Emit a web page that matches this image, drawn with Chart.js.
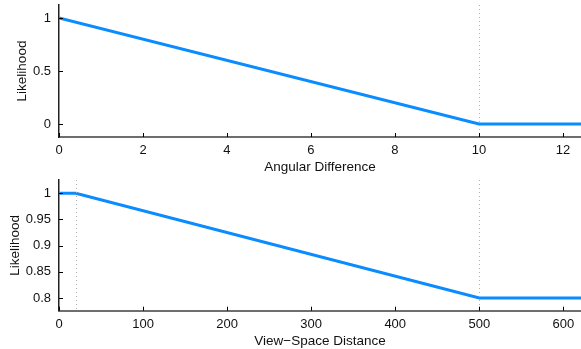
<!DOCTYPE html>
<html>
<head>
<meta charset="utf-8">
<script src="https://cdn.jsdelivr.net/npm/chart.js@4.4.1/dist/chart.umd.min.js"></script>
<style>
  html, body { margin: 0; padding: 0; background: #fff; }
  .box { position: absolute; left: 0; width: 581px; }
  #top { top: 0; height: 175px; }
  #bot { top: 175px; height: 174px; }
</style>
</head>
<body>
<div class="box" id="top"><canvas id="angChart"></canvas></div>
<div class="box" id="bot"><canvas id="distChart"></canvas></div>
<script>
// top panel: likelihood vs angular difference
const angX = [0, 10, 12.43];
const angY = [1, 0, 0];
const angXTicks = [0, 2, 4, 6, 8, 10, 12];
const angYTicks = [0, 0.5, 1];
const angGuides = [10];

// bottom panel: likelihood vs view-space distance
const distX = [0, 20, 500, 621];
const distY = [1, 1, 0.8, 0.8];
const distXTicks = [0, 100, 200, 300, 400, 500, 600];
const distYTicks = [0.8, 0.85, 0.9, 0.95, 1];
const distGuides = [20, 500];

const lineColor = '#0a8cff';
const font = "'Liberation Sans', Arial, sans-serif";

// dotted guides + inward tick marks
const decorPlugin = {
  id: 'decor',
  afterDraw(chart, args, opts) {
    const { ctx, chartArea: a, scales: { x, y } } = chart;
    ctx.save();
    ctx.strokeStyle = '#b0b0b0';
    ctx.lineWidth = 1;
    ctx.setLineDash([1, 3]);
    opts.guides.forEach(v => {
      const px = Math.round(x.getPixelForValue(v)) + 0.5;
      ctx.beginPath();
      ctx.moveTo(px, a.top);
      ctx.lineTo(px, a.bottom);
      ctx.stroke();
    });
    ctx.setLineDash([]);
    ctx.strokeStyle = '#000';
    x.ticks.forEach(t => {
      const px = Math.round(x.getPixelForValue(t.value)) + 0.5;
      ctx.beginPath();
      ctx.moveTo(px, a.bottom);
      ctx.lineTo(px, a.bottom - 4);
      ctx.stroke();
    });
    y.ticks.forEach(t => {
      const py = Math.round(y.getPixelForValue(t.value)) + 0.5;
      ctx.beginPath();
      ctx.moveTo(a.left, py);
      ctx.lineTo(a.left + 4, py);
      ctx.stroke();
    });
    ctx.restore();
  }
};

const fmt = v => String(Number(v.toFixed(3)));

function makeChart(id, xs, ys, xTicks, yTicks, guides, xMin, xMax, yMin, yMax, xTitle, xAxisH, yTitlePad) {
  const pts = xs.map((v, i) => ({ x: v, y: ys[i] }));
  return new Chart(document.getElementById(id), {
    type: 'line',
    data: {
      datasets: [{
        data: pts,
        borderColor: lineColor,
        borderWidth: 3,
        pointRadius: 0,
        tension: 0,
        fill: false
      }]
    },
    options: {
      responsive: true,
      maintainAspectRatio: false,
      animation: false,
      layout: { padding: { top: 5, right: 0, left: 0, bottom: 0 } },
      plugins: { legend: { display: false }, tooltip: { enabled: false }, decor: { guides: guides } },
      scales: {
        x: {
          type: 'linear',
          min: xMin, max: xMax,
          afterBuildTicks: s => { s.ticks = xTicks.map(v => ({ value: v })); },
          afterFit: s => { s.height = xAxisH; s.paddingLeft = 0; s.paddingRight = 0; },
          grid: { drawOnChartArea: false, drawTicks: false },
          border: { color: '#6e6e6e', width: 2 },
          ticks: { color: '#111', font: { family: font, size: 13 }, padding: 6, maxRotation: 0, callback: fmt },
          title: { display: true, text: xTitle, color: '#111', font: { family: font, size: 13.5 }, padding: { top: 0, bottom: 0 } }
        },
        y: {
          min: yMin, max: yMax,
          afterBuildTicks: s => { s.ticks = yTicks.map(v => ({ value: v })); },
          afterFit: s => { s.width = 59; s.paddingTop = 0; s.paddingBottom = 0; },
          grid: { drawOnChartArea: false, drawTicks: false },
          border: { color: '#222', width: 1.5 },
          ticks: { color: '#111', font: { family: font, size: 13 }, padding: 8, callback: fmt },
          title: { display: true, text: 'Likelihood', color: '#111', font: { family: font, size: 13.5 }, padding: { top: yTitlePad, bottom: 0 } }
        }
      }
    },
    plugins: [decorPlugin]
  });
}

makeChart('angChart', angX, angY, angXTicks, angYTicks, angGuides, 0, 12.43, -0.123, 1.123, 'Angular Difference', 38, 14);
makeChart('distChart', distX, distY, distXTicks, distYTicks, distGuides, 0, 621, 0.7758, 1.0254, 'View\u2212Space Distance', 38.3, 7);
</script>
</body>
</html>
